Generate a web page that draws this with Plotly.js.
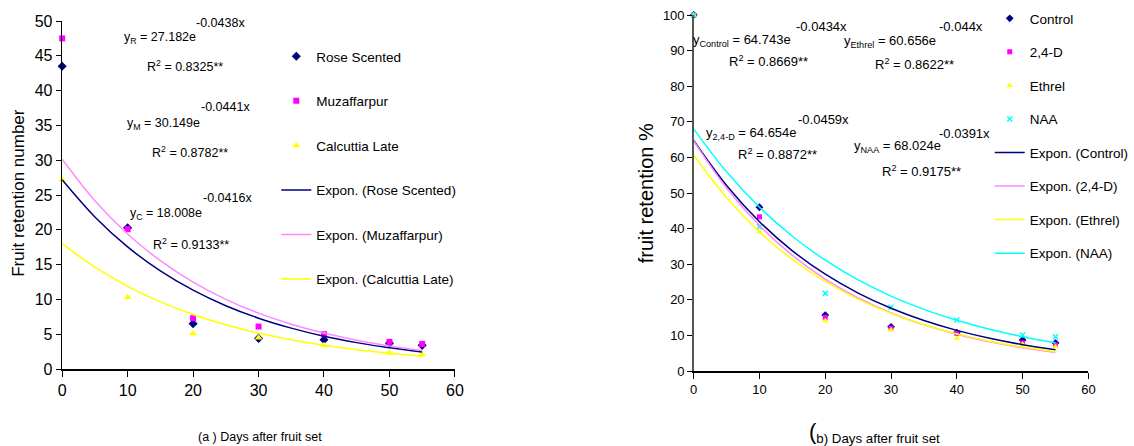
<!DOCTYPE html>
<html>
<head>
<meta charset="utf-8">
<script src="https://cdn.plot.ly/plotly-3.0.1.min.js"></script>
<style>html,body{margin:0;padding:0;background:#fff;overflow:hidden;}#chart{width:1134px;height:446px;}</style>
</head>
<body>
<div id="chart"></div>
<script>
// ---- Data: panel (a) cultivars ----
const days = [0, 10, 20, 30, 40, 50, 55];
const roseScented = [43.5, 20.3, 6.5, 4.4, 4.2, 3.7, 3.4];
const muzaffarpur = [47.5, 20.1, 7.3, 6.1, 5.0, 3.9, 3.6];
const calcuttiaLate = [27.2, 10.3, 5.1, 4.5, 3.4, 2.3, 2.1];

// trendline readings (panel a)
const trendDays = [0, 5, 10, 15, 20, 25, 30, 35, 40, 45, 50, 55];
const trendRose = [27.18, 21.84, 17.54, 14.09, 11.32, 9.09, 7.30, 5.87, 4.71, 3.79, 3.04, 2.44];
const trendMuz = [30.15, 24.18, 19.40, 15.56, 12.48, 10.01, 8.03, 6.44, 5.17, 4.14, 3.32, 2.67];
const trendCal = [18.01, 14.63, 11.88, 9.65, 7.84, 6.37, 5.17, 4.20, 3.41, 2.77, 2.25, 1.83];

// ---- Data: panel (b) treatments ----
const control = [100, 46.0, 15.7, 12.4, 10.8, 8.7, 7.9];
const d24 = [100, 43.3, 15.1, 12.0, 10.6, 7.9, 7.3];
const ethrel = [100, 39.1, 14.1, 11.5, 9.2, 7.5, 6.8];
const naa = [100, 40.5, 21.8, 17.9, 14.3, 10.1, 9.6];

const trendControl = [64.74, 52.11, 41.95, 33.76, 27.18, 21.88, 17.61, 14.17, 11.41, 9.18, 7.39, 5.95];
const trend24D = [64.65, 51.39, 40.85, 32.48, 25.82, 20.52, 16.31, 12.97, 10.31, 8.20, 6.52, 5.18];
const trendEthrel = [60.66, 48.68, 39.06, 31.35, 25.16, 20.19, 16.20, 13.00, 10.43, 8.38, 6.72, 5.39];
const trendNAA = [68.02, 55.94, 46.01, 37.84, 31.12, 25.60, 21.05, 17.31, 14.24, 11.71, 9.63, 7.92];

const xTicks = [0, 10, 20, 30, 40, 50, 60];

const FONT = 'Liberation Sans, Arial, sans-serif';
const NAVY = '#000080', MAG = '#FF00FF', YEL = '#FFFF00', CYAN = '#00FFFF', PINK = '#FF88FF';

function pts(name, x, y, sym, color, size, leg, xa, ya) {
  return {type: 'scatter', mode: 'markers', name, x, y, xaxis: xa, yaxis: ya, legend: leg,
    legendgroup: name, marker: {symbol: sym, color, size, line: {width: 0}}, cliponaxis: false};
}
function trend(name, x, y, color, leg, xa, ya) {
  return {type: 'scatter', mode: 'lines', name, x, y, xaxis: xa, yaxis: ya, legend: leg,
    legendgroup: name, line: {color, width: 1.5, shape: 'spline'}};
}

const traces = [
  pts('Rose Scented', days, roseScented, 'diamond', NAVY, 7, 'legend', 'x', 'y'),
  pts('Muzaffarpur', days, muzaffarpur, 'square', MAG, 6, 'legend', 'x', 'y'),
  pts('Calcuttia Late', days, calcuttiaLate, 'triangle-up', YEL, 7, 'legend', 'x', 'y'),
  trend('Expon. (Rose Scented)', trendDays, trendRose, NAVY, 'legend', 'x', 'y'),
  trend('Expon. (Muzaffarpur)', trendDays, trendMuz, PINK, 'legend', 'x', 'y'),
  trend('Expon. (Calcuttia Late)', trendDays, trendCal, YEL, 'legend', 'x', 'y'),
  pts('Control', days, control, 'diamond', NAVY, 6, 'legend2', 'x2', 'y2'),
  pts('2,4-D', days, d24, 'square', MAG, 5, 'legend2', 'x2', 'y2'),
  pts('Ethrel', days, ethrel, 'triangle-up', YEL, 6, 'legend2', 'x2', 'y2'),
  {type: 'scatter', mode: 'markers', name: 'NAA', x: days, y: naa, xaxis: 'x2', yaxis: 'y2', legend: 'legend2',
    legendgroup: 'NAA', marker: {symbol: 'x-thin-open', color: CYAN, size: 5, line: {width: 1.5, color: CYAN}}, cliponaxis: false},
  trend('Expon. (Control)', trendDays, trendControl, NAVY, 'legend2', 'x2', 'y2'),
  trend('Expon. (2,4-D)', trendDays, trend24D, PINK, 'legend2', 'x2', 'y2'),
  trend('Expon. (Ethrel)', trendDays, trendEthrel, YEL, 'legend2', 'x2', 'y2'),
  trend('Expon. (NAA)', trendDays, trendNAA, CYAN, 'legend2', 'x2', 'y2')
];

const W = 1134, H = 446;
const fx = p => p / W, fy = p => 1 - p / H;

function ann(text, xpx, ypx, size, anchor) {
  return {text, x: fx(xpx), y: fy(ypx), xref: 'paper', yref: 'paper', showarrow: false,
    xanchor: anchor || 'left', yanchor: 'middle', font: {family: FONT, size: size || 12.5, color: '#000'}};
}

const annotations = [
  ann('y<sub>R</sub> = 27.182e', 124, 38), ann('-0.0438x', 197, 23),
  ann('R<sup>2</sup> = 0.8325**', 147, 66),
  ann('y<sub>M</sub> = 30.149e', 127, 124), ann('-0.0441x', 202, 107),
  ann('R<sup>2</sup> = 0.8782**', 152, 152),
  ann('y<sub>C</sub> = 18.008e', 130, 214), ann('-0.0416x', 204, 198),
  ann('R<sup>2</sup> = 0.9133**', 153, 244),
  ann('y<sub>Control</sub> = 64.743e', 700, 40, 13), ann('-0.0434x', 805, 27, 13),
  ann('R<sup>2</sup> = 0.8669**', 737, 61, 13),
  ann('y<sub>2,4-D</sub> = 64.654e', 713, 133, 13), ann('-0.0459x', 807, 119, 13),
  ann('R<sup>2</sup> = 0.8872**', 746, 154, 13),
  ann('y<sub>Ethrel</sub> = 60.656e', 853, 41, 13), ann('-0.044x', 950, 27, 13),
  ann('R<sup>2</sup> = 0.8622**', 885, 64, 13),
  ann('y<sub>NAA</sub> = 68.024e', 863, 146, 13), ann('-0.0391x', 950, 133, 13),
  ann('R<sup>2</sup> = 0.9175**', 892, 171, 13),
  ann('(a ) Days after fruit set', 263, 437, 12.5, 'center'),
  ann('<span style="font-size:22px">(</span><sub>b) Days after fruit set</sub>', 886, 432, 19, 'center'),
  {text: 'Fruit retention number', x: fx(18), y: fy(193), xref: 'paper', yref: 'paper', showarrow: false,
    textangle: -90, xanchor: 'center', yanchor: 'middle', font: {family: FONT, size: 17, color: '#000'}},
  {text: 'fruit retention %', x: fx(655), y: fy(193), xref: 'paper', yref: 'paper', showarrow: false,
    textangle: -90, xanchor: 'center', yanchor: 'middle', font: {family: FONT, size: 20, color: '#000'}}
];

function xaxis(domain, size) {
  return {domain, range: [0, 60], tickvals: xTicks, ticktext: xTicks.map(String), showgrid: false, zeroline: false,
    showline: true, linecolor: '#000', linewidth: 1.5, ticks: 'outside', ticklen: 6, tickcolor: '#000',
    tickfont: {family: FONT, size, color: '#000'}, fixedrange: true, automargin: false};
}
function yaxis(domain, range, dtick, size, lc) {
  return {domain, range, dtick, showgrid: false, zeroline: false, showline: true, linecolor: lc, linewidth: 1.5,
    ticks: 'outside', ticklen: 5, tickcolor: '#000', tickfont: {family: FONT, size, color: '#000'},
    fixedrange: true, automargin: false};
}

const layout = {
  width: W, height: H, margin: {l: 0, r: 0, t: 0, b: 0}, paper_bgcolor: '#fff', plot_bgcolor: 'rgba(0,0,0,0)',
  font: {family: FONT, color: '#000'},
  xaxis: Object.assign(xaxis([fx(63), fx(461)], 16), {anchor: 'y'}),
  yaxis: Object.assign(yaxis([fy(369), fy(21)], [0, 50], 5, 16, '#000'), {anchor: 'x'}),
  xaxis2: Object.assign(xaxis([fx(703), fx(1103)], 13), {anchor: 'y2'}),
  yaxis2: Object.assign(yaxis([fy(371), fy(15)], [0, 100], 10, 13, '#555'), {anchor: 'x2'}),
  showlegend: true,
  legend: {x: fx(280), y: fy(41), xanchor: 'left', yanchor: 'top', bgcolor: 'rgba(0,0,0,0)',
    font: {family: FONT, size: 13.5, color: '#000'}, tracegroupgap: 24, traceorder: 'grouped', itemwidth: 30},
  legend2: {x: fx(1003), y: fy(3), xanchor: 'left', yanchor: 'top', bgcolor: 'rgba(0,0,0,0)',
    font: {family: FONT, size: 13.5, color: '#000'}, tracegroupgap: 13, traceorder: 'grouped', itemwidth: 30},
  annotations
};

Plotly.newPlot('chart', traces, layout, {displayModeBar: false, staticPlot: true});
</script>
</body>
</html>
